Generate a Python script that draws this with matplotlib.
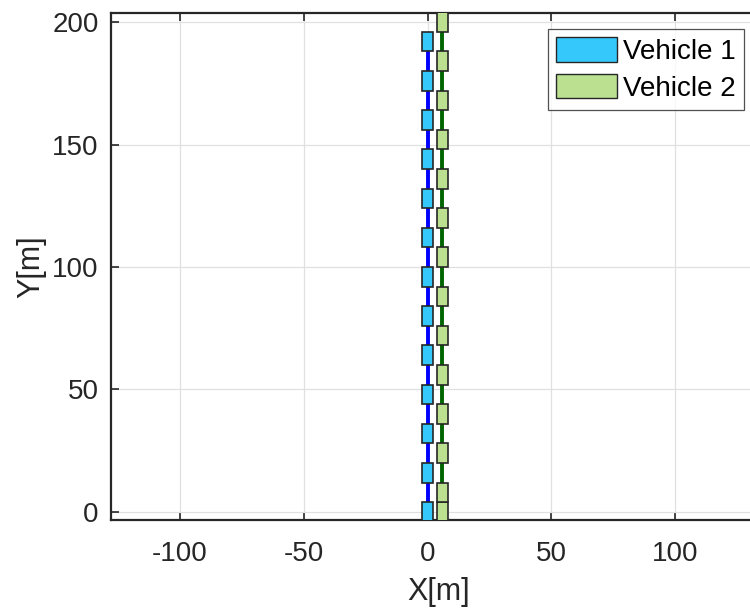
import matplotlib
matplotlib.use("Agg")
import matplotlib.pyplot as plt
from matplotlib.patches import Rectangle, Patch

# vehicle snapshots (centre positions, m)
v1_x = [0.0] * 13
v1_y = [0, 16, 32, 48, 64, 80, 96, 112, 128, 144, 160, 176, 192]
v2_x = [6.0] * 14
v2_y = [0, 8, 24, 40, 56, 72, 88, 104, 120, 136, 152, 168, 184, 200]

veh_w = 4.2
veh_l = 8.0

labels = ["Vehicle 1", "Vehicle 2"]
fills = ["#35C8FA", "#BBE08F"]
lines = ["#0000FF", "#006400"]

plt.rcParams['font.family'] = ['Liberation Sans', 'DejaVu Sans']
plt.rcParams['axes.unicode_minus'] = False
txt = (0.15, 0.15, 0.15)

fig = plt.figure(figsize=(7.5, 6.09), dpi=100)
ax = fig.add_axes([111 / 750, 89 / 609, 655 / 750, 507 / 609])

ax.plot(v1_x, v1_y, color=lines[0], lw=2.8, zorder=2)
ax.plot(v2_x + [v2_x[-1]], v2_y + [205], color=lines[1], lw=2.8, zorder=2)

for xs, ys, fc in [(v1_x, v1_y, fills[0]), (v2_x, v2_y, fills[1])]:
    for x, y in zip(xs, ys):
        ax.add_patch(Rectangle((x - veh_w / 2, y - veh_l / 2), veh_w, veh_l,
                               facecolor=fc, edgecolor=(0.15, 0.15, 0.15),
                               lw=1.2, zorder=3))

ax.set_xlim(-127.9, (766 - 427.5) / 2.475)
ax.set_ylim(-3.3, 203.7)
ax.set_xticks([-100, -50, 0, 50, 100])
ax.set_yticks([0, 50, 100, 150, 200])
ax.grid(True, color=(0.88, 0.88, 0.88), lw=0.9, zorder=0)
ax.set_axisbelow(True)
ax.tick_params(direction='in', length=6, width=1.2, colors=txt,
               labelsize=20, top=True, right=True, pad=9)
ax.tick_params(axis='x', pad=15)
for s in ax.spines.values():
    s.set_color(txt)
    s.set_linewidth(1.6)

ax.set_xlabel("X[m]", fontsize=22, color=txt, labelpad=7)
ax.set_ylabel("Y[m]", fontsize=22, color=txt, labelpad=4)

handles = [Patch(facecolor=fills[i], edgecolor=(0.15, 0.15, 0.15), lw=1.0)
           for i in range(2)]
leg = ax.legend(handles, labels, loc='upper right',
                bbox_to_anchor=(744 / 750, 1 - 29 / 609),
                bbox_transform=fig.transFigure, fontsize=20,
                frameon=True, fancybox=False, handlelength=2.2,
                handleheight=0.97, handletextpad=0.2, borderpad=0.3,
                labelspacing=0.32, borderaxespad=0)
leg.get_frame().set_edgecolor(txt)
leg.get_frame().set_linewidth(0.9)

fig.savefig("out.png", dpi=100)
